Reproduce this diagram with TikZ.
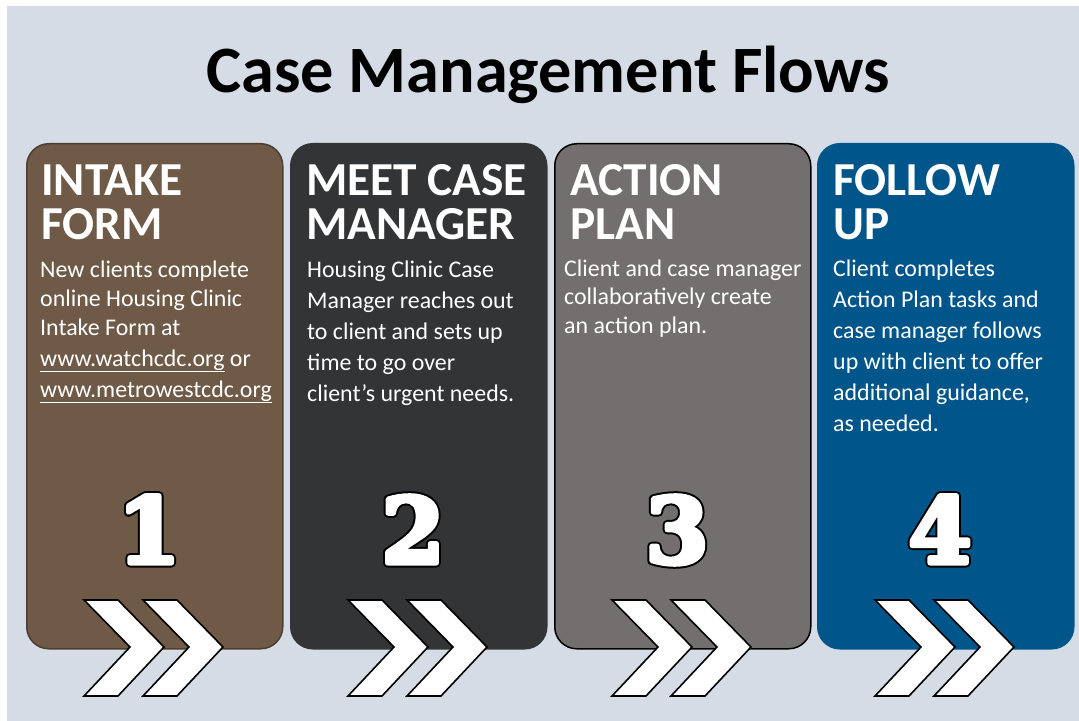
\documentclass[tikz,border=0pt]{standalone}
\usepackage{fontspec}
\setmainfont{Carlito}
\newfontfamily\numfont{DejaVu Serif}

\definecolor{pagebg}{HTML}{D5DCE5}
\definecolor{intakefill}{HTML}{6E5A46}
\definecolor{intakeline}{HTML}{4C3E30}
\definecolor{meetfill}{HTML}{333436}
\definecolor{planfill}{HTML}{726F6E}
\definecolor{followfill}{HTML}{00568A}

% heavy white glyphs with a black rim: a widely stroked black copy
% underneath, a less widely stroked white copy on top
\newcommand{\stroked}[3]{\textcolor{#1}{%
  \special{pdf:code 2 Tr #2 w 1 j}#3\special{pdf:code 0 Tr}}}
\newcommand{\heavydigit}[1]{\rlap{\stroked{black}{9}{#1}}\stroked{white}{5}{#1}}

\tikzset{
  stepcard/.style={draw=#1, line width=1.5bp, rounded corners=22bp,
    minimum width=256bp, minimum height=505bp, anchor=north west, inner sep=0pt},
  heading/.style={anchor=base west, inner sep=0pt, text=white,
    font=\fontsize{47.5}{47.5}\selectfont\bfseries},
  bodyline/.style={anchor=base west, inner sep=0pt, text=white,
    font=\fontsize{24}{24}\selectfont},
  stepnum/.style={anchor=base, inner sep=0pt,
    font=\numfont\bfseries\fontsize{91}{91}\selectfont},
  chevron/.style={fill=white, draw=black, line width=1.6bp, line join=miter},
  title/.style={anchor=base, inner sep=0pt,
    font=\fontsize{66.5}{66.5}\selectfont\bfseries}
}

% one chevron whose top-left corner is at (#1,#2)
\newcommand{\chevronat}[2]{%
  \draw[chevron] (#1,#2) -- ++(34,0) -- ++(46,47) -- ++(-46,49) -- ++(-34,0)
    -- ++(46,-49) -- cycle;}

\begin{document}
\begin{tikzpicture}[x=1bp,y=-1bp]
  \useasboundingbox (0,0) rectangle (1079,721);
  \fill[pagebg] (7,6) rectangle (1079,721);

  \node[title] (ttl) at (548,93) {Case Management Flows};

  % the four cards
  \node[stepcard=intakeline, fill=intakefill] (c1) at (26,143) {};
  \node[stepcard=meetfill, fill=meetfill] (c2) at (290,143) {};
  \node[stepcard=black, fill=planfill] (c3) at (554,143) {};
  \node[stepcard=followfill, fill=followfill] (c4) at (817,143) {};

  % headings
  \node[heading] (h1a) at (41,196) {INTAKE};
  \node[heading] (h1b) at (41,239) {FORM};
  \node[heading] (h2a) at (306,196) {MEET CASE};
  \node[heading] (h2b) at (306,239) {MANAGER};
  \node[heading] (h3a) at (570,196) {ACTION};
  \node[heading] (h3b) at (570,239) {PLAN};
  \node[heading] (h4a) at (833,196) {FOLLOW};
  \node[heading] (h4b) at (833,239) {UP};

  % descriptions
  \foreach \t/\y [count=\k] in {New clients complete/277,
      online Housing Clinic/306.5, Intake Form at/335,
      {\underline{www.watchcdc.org} or}/366,
      \underline{www.metrowestcdc.org}/397}
    \node[bodyline] (b1-\k) at (40,\y) {\t};
  \foreach \t [count=\k] in {Housing Clinic Case, Manager reaches out,
      to client and sets up, time to go over, client’s urgent needs.}
    \node[bodyline] (b2-\k) at (307,277+31*\k-31) {\t};
  \foreach \t [count=\k] in {Client and case manager, collaboratively create,
      an action plan.}
    \node[bodyline] (b3-\k) at (564,276+28.5*\k-28.5) {\t};
  \foreach \t [count=\k] in {Client completes, Action Plan tasks and,
      case manager follows, up with client to offer,
      {additional guidance,}, as needed.}
    \node[bodyline] (b4-\k) at (833,276+31*\k-31) {\t};

  % step numbers and chevrons
  \foreach \n/\x in {1/26, 2/290, 3/554, 4/817} {
    \node[stepnum] (n\n) at (\x+123,563) {\heavydigit{\n}};
    \chevronat{\x+58}{600}
    \chevronat{\x+117}{600}
  }
\end{tikzpicture}
\end{document}
